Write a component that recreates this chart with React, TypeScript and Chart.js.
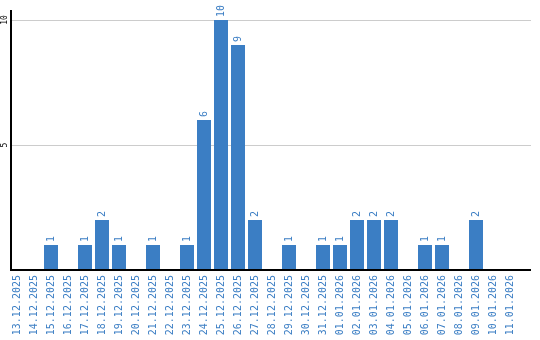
import React, { useEffect, useRef } from "react";
import { Chart, registerables } from "chart.js";

Chart.register(...registerables);

const categories = [
  "13.12.2025", "14.12.2025", "15.12.2025", "16.12.2025", "17.12.2025",
  "18.12.2025", "19.12.2025", "20.12.2025", "21.12.2025", "22.12.2025",
  "23.12.2025", "24.12.2025", "25.12.2025", "26.12.2025", "27.12.2025",
  "28.12.2025", "29.12.2025", "30.12.2025", "31.12.2025", "01.01.2026",
  "02.01.2026", "03.01.2026", "04.01.2026", "05.01.2026", "06.01.2026",
  "07.01.2026", "08.01.2026", "09.01.2026", "10.01.2026", "11.01.2026",
];

const values = [
  0, 0, 1, 0, 1, 2, 1, 0, 1, 0,
  1, 6, 10, 9, 2, 0, 1, 0, 1, 1,
  2, 2, 2, 0, 1, 1, 0, 2, 0, 0,
];

const yTicks = [5, 10];

const BLUE = "#3b7ec4";
const FONT = "'DejaVu Sans Mono', monospace";

const framePlugin = {
  id: "frame",
  beforeDatasetsDraw(chart: any) {
    const ctx = chart.ctx;
    const ys = chart.scales.y;
    const top = chart.chartArea.top;
    const bottom = ys.getPixelForValue(0);
    ctx.save();
    ctx.fillStyle = "#cccccc";
    yTicks.forEach((t) => {
      const py = Math.round(ys.getPixelForValue(t));
      ctx.fillRect(11, py, 520, 1);
    });
    ctx.restore();
    (chart as any)._frame = { top, bottom };
  },
  afterDatasetsDraw(chart: any) {
    const ctx = chart.ctx;
    const meta = chart.getDatasetMeta(0);
    const ys = chart.scales.y;
    const top = chart.chartArea.top;
    const zero = Math.round(ys.getPixelForValue(0));
    ctx.save();
    // axes lines
    ctx.fillStyle = "#000";
    ctx.fillRect(10, top, 2, zero - top + 1);
    ctx.fillRect(10, zero - 1, 521, 2);
    // value labels
    ctx.font = `10px ${FONT}`;
    ctx.fillStyle = BLUE;
    ctx.textAlign = "left";
    ctx.textBaseline = "middle";
    meta.data.forEach((bar: any, i: number) => {
      const v = values[i];
      if (!v) return;
      ctx.save();
      ctx.translate(bar.x, bar.y - 3);
      ctx.rotate(-Math.PI / 2);
      ctx.fillText(String(v), 0, 0);
      ctx.restore();
    });
    // y tick labels rotated
    ctx.font = `8px ${FONT}`;
    ctx.fillStyle = "#000";
    ctx.textAlign = "center";
    ctx.textBaseline = "middle";
    yTicks.forEach((t) => {
      const py = ys.getPixelForValue(t);
      ctx.save();
      ctx.translate(5, py);
      ctx.rotate(-Math.PI / 2);
      ctx.fillText(String(t), 0, 0);
      ctx.restore();
    });
    ctx.restore();
  },
};

export default function App() {
  const ref = useRef<HTMLCanvasElement>(null);
  useEffect(() => {
    const chart = new Chart(ref.current as HTMLCanvasElement, {
      type: "bar",
      data: {
        labels: categories,
        datasets: [
          {
            data: values,
            backgroundColor: BLUE,
            barPercentage: 14 / 17,
            categoryPercentage: 1,
          },
        ],
      },
      options: {
        animation: false,
        responsive: false,
        maintainAspectRatio: false,
        layout: { padding: { top: 10, right: 21.5, left: 0, bottom: 0 } },
        plugins: { legend: { display: false }, tooltip: { enabled: false } },
        scales: {
          x: {
            grid: { display: false, drawTicks: false },
            border: { display: false },
            ticks: {
              color: BLUE,
              font: { family: FONT, size: 10 },
              minRotation: 90,
              maxRotation: 90,
              autoSkip: false,
              padding: 5,
            },
            afterFit(scale: any) {
              scale.height = 70;
            },
          },
          y: {
            min: 0,
            max: 10.4,
            afterBuildTicks(scale: any) {
              scale.ticks = yTicks.map((v) => ({ value: v }));
            },
            grid: { display: false, drawTicks: false },
            border: { display: false },
            ticks: { display: false },
            afterFit(scale: any) {
              scale.width = 8.5;
            },
          },
        },
      },
      plugins: [framePlugin],
    });
    return () => chart.destroy();
  }, []);
  return (
    <div style={{ position: "fixed", left: 0, top: 0, width: 540, height: 340 }}>
      <canvas ref={ref} width={540} height={340} />
    </div>
  );
}
